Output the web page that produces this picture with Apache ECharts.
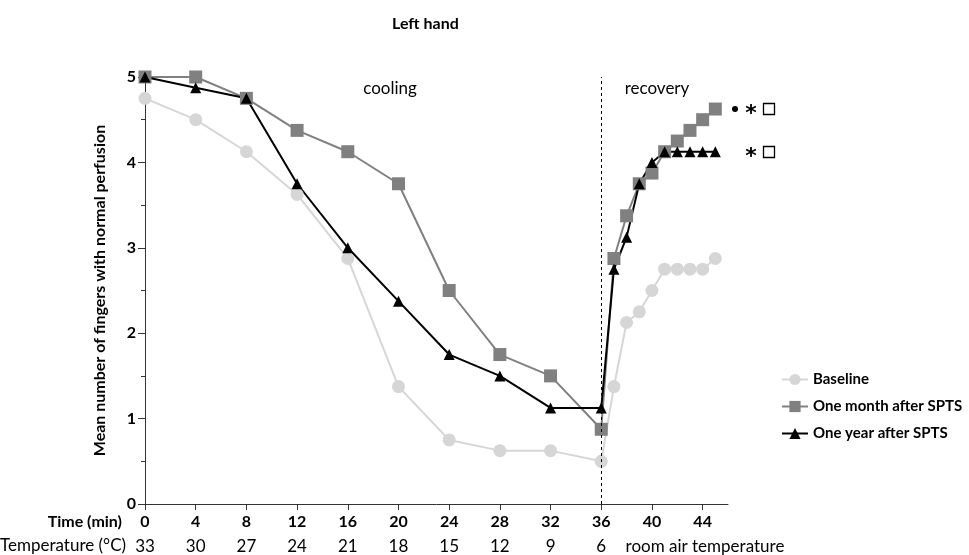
<!DOCTYPE html>
<html><head><meta charset="utf-8">
<script src="https://cdn.jsdelivr.net/npm/echarts@6/dist/echarts.min.js"></script>
<style>html,body{margin:0;padding:0;background:#fff}#c{width:969px;height:555px}</style>
</head><body><div id="c"></div>
<script>
const times = [0,4,8,12,16,20,24,28,32,36,37,38,39,40,41,42,43,44,45];
const baseline = [4.75,4.5,4.125,3.625,2.875,1.375,0.75,0.625,0.625,0.5,1.375,2.125,2.25,2.5,2.75,2.75,2.75,2.75,2.875];
const oneMonth = [5,5,4.75,4.375,4.125,3.75,2.5,1.75,1.5,0.875,2.875,3.375,3.75,3.875,4.125,4.25,4.375,4.5,4.625];
const oneYear = [5,4.875,4.75,3.75,3.0,2.375,1.75,1.5,1.125,1.125,2.75,3.125,3.75,4.0,4.125,4.125,4.125,4.125,4.125];
const timeTicks = [0,4,8,12,16,20,24,28,32,36,40,44];
const tempLabels = {0:'33',4:'30',8:'27',12:'24',16:'21',20:'18',24:'15',28:'12',32:'9',36:'6',40:'room air temperature',44:''};
const seriesNames = ['Baseline','One month after SPTS','One year after SPTS'];

const FONT = 'Lato, "Open Sans", sans-serif';
const chart = echarts.init(document.getElementById('c'));
const pair = a => times.map((t,i)=>[t,a[i]]);
const star = (x,y)=>({type:'text', x:x, y:y, style:{text:'*', align:'center', verticalAlign:'middle', fontSize:22, fontWeight:'bold', fill:'#000', fontFamily:'DejaVu Sans'}});
const box = (x,y)=>({type:'rect', shape:{x:x-5.5, y:y-5.5, width:11, height:11}, style:{fill:'none', stroke:'#000', lineWidth:1.3}});
chart.setOption({
  animation:false,
  textStyle:{fontFamily:FONT},
  title:{text:'Left hand', left:387, top:11, textStyle:{fontSize:16, fontWeight:'bold', color:'#000', fontFamily:FONT}},
  grid:{left:145, top:77, right:241, bottom:51, containLabel:false},
  legend:{orient:'vertical', left:776, top:367, itemGap:12, itemWidth:26, itemHeight:14,
    textStyle:{fontSize:15, fontWeight:'bold', color:'#000', fontFamily:FONT},
    data:seriesNames},
  xAxis:[{
    type:'value', min:0, max:46, interval:4, position:'bottom',
    axisLine:{show:true, onZero:false, lineStyle:{color:'#333', width:1}},
    axisTick:{show:true, length:6, customValues:timeTicks, lineStyle:{color:'#333'}},
    axisLabel:{customValues:timeTicks, margin:10, fontSize:16, fontWeight:'bold', color:'#000', fontFamily:FONT},
    splitLine:{show:false}
  },{
    type:'value', min:0, max:46, interval:4, position:'bottom', offset:24,
    axisLine:{show:false}, axisTick:{show:false}, splitLine:{show:false},
    axisLabel:{customValues:timeTicks, margin:10, fontSize:17, color:'#000', fontFamily:FONT,
      formatter:v=> v===40 ? '{r|'+tempLabels[v]+'}' : (tempLabels[v]||''),
      rich:{r:{fontSize:17, color:'#000', fontFamily:FONT, padding:[0,0,0,106]}}}
  }],
  yAxis:{
    type:'value', min:0, max:5, interval:1,
    name:'Mean number of fingers with normal perfusion', nameLocation:'middle', nameGap:37,
    nameTextStyle:{fontSize:16, fontWeight:'bold', color:'#000', fontFamily:FONT},
    axisLine:{show:true, lineStyle:{color:'#333', width:1}},
    axisTick:{show:true, length:7, lineStyle:{color:'#333'}},
    minorTick:{show:true, splitNumber:2, length:4, lineStyle:{color:'#333'}},
    axisLabel:{margin:9, fontSize:16, fontWeight:'bold', color:'#000', fontFamily:FONT},
    splitLine:{show:false}, minorSplitLine:{show:false}
  },
  graphic:[
    {type:'text', x:122, y:522, style:{text:'Time (min)', align:'right', verticalAlign:'middle', fontSize:16, fontWeight:'bold', fill:'#000', fontFamily:FONT}},
    {type:'text', x:0, y:546, style:{text:'Temperature (°C)', align:'left', verticalAlign:'middle', fontSize:17, fill:'#000', fontFamily:FONT}},
    {type:'text', x:390, y:89, style:{text:'cooling', align:'center', verticalAlign:'middle', fontSize:17, fill:'#000', fontFamily:FONT}},
    {type:'text', x:657, y:89, style:{text:'recovery', align:'center', verticalAlign:'middle', fontSize:17, fill:'#000', fontFamily:FONT}},
    {type:'circle', shape:{cx:735, cy:109, r:3}, style:{fill:'#000'}},
    star(751,114), box(769,109),
    star(751,157), box(769,152)
  ],
  series:[
    {name:seriesNames[0], type:'line', data:pair(baseline), symbol:'circle', symbolSize:13,
      itemStyle:{color:'#d6d6d6'}, lineStyle:{color:'#d6d6d6', width:2},
      markLine:{silent:true, symbol:'none', label:{show:false},
        lineStyle:{color:'#000', type:[3,3], width:1}, data:[{xAxis:36}]}},
    {name:seriesNames[1], type:'line', data:pair(oneMonth), symbol:'rect', symbolSize:13,
      itemStyle:{color:'#808080'}, lineStyle:{color:'#808080', width:2}},
    {name:seriesNames[2], type:'line', data:pair(oneYear), symbol:'triangle', symbolSize:11,
      itemStyle:{color:'#000'}, lineStyle:{color:'#000', width:2}}
  ]
});
</script></body></html>
